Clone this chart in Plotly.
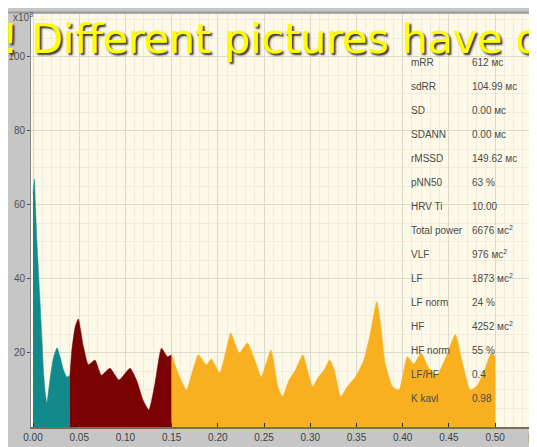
import plotly.graph_objs as go

# spectrum, power in ms^2 x10^3, split by band
vlf_freq = [0.000, 0.0015, 0.0025, 0.0043, 0.0072, 0.0097, 0.0115, 0.0133, 0.015, 0.0187,
            0.0223, 0.026, 0.0294, 0.033, 0.0366, 0.040]
vlf_power = [63, 67, 61, 50, 36, 23.5, 14.6, 9.2, 6.5, 13.5, 18.9, 21.4, 18.9, 15.4, 13.5, 14]

lf_freq = [0.040, 0.042, 0.0456, 0.049, 0.0546, 0.060, 0.067, 0.074, 0.0833, 0.093, 0.105,
           0.112, 0.119, 0.1254, 0.132, 0.139, 0.1455, 0.150]
lf_power = [14, 20.8, 27, 29.2, 21.7, 16.8, 18.1, 14, 15.9, 12.7, 15.9, 12.7, 7.3, 4.6, 11.8,
            21.3, 19, 19.5]

hf_freq = [0.150, 0.157, 0.166, 0.173, 0.179, 0.1875, 0.193, 0.202, 0.209, 0.214, 0.223, 0.232,
           0.240, 0.247, 0.2575, 0.265, 0.270, 0.277, 0.284, 0.292, 0.297, 0.3025, 0.308, 0.315,
           0.321, 0.326, 0.333, 0.340, 0.349, 0.358, 0.365, 0.372, 0.376, 0.381, 0.389, 0.396,
           0.405, 0.412, 0.420, 0.428, 0.437, 0.447, 0.457, 0.465, 0.473, 0.480, 0.488, 0.496,
           0.500]
hf_power = [19.5, 14.6, 10, 15.4, 19.5, 16.8, 18.4, 14.6, 20.8, 25.4, 20, 22.7, 18.1, 13.5, 20.8,
            10.9, 8.2, 12.7, 15.4, 19.5, 15.4, 10.9, 13.2, 15.4, 18.1, 15.4, 8.2, 10.9, 13.6, 18.1,
            25.4, 33.9, 28, 17.3, 10.9, 10, 19, 17, 20, 16, 14, 19, 25, 17, 10, 11, 15, 20, 19]

x_ticks = [0.00, 0.05, 0.10, 0.15, 0.20, 0.25, 0.30, 0.35, 0.40, 0.45, 0.50]
y_ticks = [20, 40, 60, 80, 100]

stat_names = ["mRR", "sdRR", "SD", "SDANN", "rMSSD", "pNN50", "HRV Ti", "Total power", "VLF",
              "LF", "LF norm", "HF", "HF norm", "LF/HF", "K kavl"]
stat_values = ["612 мс", "104.99 мс", "0.00 мс", "0.00 мс", "149.62 мс", "63 %", "10.00",
               "6676 мс<sup>2</sup>", "976 мс<sup>2</sup>", "1873 мс<sup>2</sup>", "24 %",
               "4252 мс<sup>2</sup>", "55 %", "0.4", "0.98"]

band_colors = ["#128a8c", "#7a0202", "#f8b020"]

# page body has an 8px margin, so the figure is a bit smaller than the window
PAGE_OFF = 8
W, H = 537 - PAGE_OFF, 447 - PAGE_OFF
PLOT_L, PLOT_T, PLOT_B, PLOT_R = 29, 14, 427, 537  # plot area in window pixels


def px_x(px):
    return (px - PLOT_L) / (PLOT_R - PLOT_L)


def px_y(py):
    return (PLOT_B - py) / (PLOT_B - PLOT_T)


fig = go.Figure()
for i, (fx, py) in enumerate([(vlf_freq, vlf_power), (lf_freq, lf_power), (hf_freq, hf_power)]):
    fig.add_trace(go.Scatter(
        x=fx, y=py, mode="lines", fill="tozeroy",
        line=dict(color=band_colors[i], width=0.5, shape="spline", smoothing=0.5),
        fillcolor=band_colors[i], showlegend=False, hoverinfo="skip"
    ))

narrow = "Liberation Sans Narrow, Arial Narrow, Liberation Sans, sans-serif"
annotations = []
for i, (name, val) in enumerate(zip(stat_names, stat_values)):
    row_y = 62 + i * 24.0
    annotations.append(dict(xref="paper", yref="paper", x=px_x(408), y=px_y(row_y),
                            xanchor="left", yanchor="middle", text=name, showarrow=False,
                            font=dict(family=narrow, size=10, color="#4a4a4a")))
    annotations.append(dict(xref="paper", yref="paper", x=px_x(470), y=px_y(row_y),
                            xanchor="left", yanchor="middle", text=val, showarrow=False,
                            font=dict(family=narrow, size=10, color="#4a4a4a")))

annotations.append(dict(xref="paper", yref="paper", x=px_x(9), y=px_y(17),
                        xanchor="left", yanchor="middle", text="x10<sup>3</sup>", showarrow=False,
                        font=dict(family=narrow, size=10, color="#505050")))
annotations.append(dict(xref="paper", yref="paper", x=px_x(526), y=px_y(438),
                        xanchor="left", yanchor="middle", text="F, Гц", showarrow=False,
                        font=dict(family=narrow, size=10, color="#404040")))
annotations.append(dict(xref="paper", yref="paper", x=px_x(-2), y=px_y(39),
                        xanchor="left", yanchor="middle",
                        text="! Different pictures have different", showarrow=False,
                        font=dict(family="DejaVu Sans", size=41, color="#ffff00",
                                  shadow="2px 2px 2px #303030")))

fig.update_layout(
    width=W, height=H,
    margin=dict(l=PLOT_L - PAGE_OFF, r=0, t=PLOT_T - PAGE_OFF, b=447 - PLOT_B),
    paper_bgcolor="#c6c6c6",
    plot_bgcolor="#fdf9e8",
    annotations=annotations,
    shapes=[
        dict(type="line", xref="paper", yref="paper", x0=px_x(0), x1=1, y0=px_y(12.5),
             y1=px_y(12.5), line=dict(color="#9a9a9a", width=2)),
    ]
)
fig.update_xaxes(
    range=[-0.00216, 0.5453], tickvals=x_ticks, tickformat=".2f",
    showgrid=True, gridcolor="#dedac9", gridwidth=1,
    minor=dict(dtick=0.01, showgrid=True, gridcolor="#f0ecdd"),
    ticks="inside", ticklen=4, tickcolor="#303030",
    showline=True, linecolor="#7a6c55", linewidth=2,
    tickfont=dict(family=narrow, size=10, color="#404040"), zeroline=False
)
fig.update_yaxes(
    range=[0, 111.6], tickvals=y_ticks,
    showgrid=True, gridcolor="#dedac9", gridwidth=1,
    minor=dict(dtick=5, showgrid=True, gridcolor="#f0ecdd"),
    ticks="outside", ticklen=3, tickcolor="#505050",
    showline=True, linecolor="#8a8a8a", linewidth=1,
    tickfont=dict(family=narrow, size=10, color="#505050"), zeroline=False
)

fig.write_html("out.html")
